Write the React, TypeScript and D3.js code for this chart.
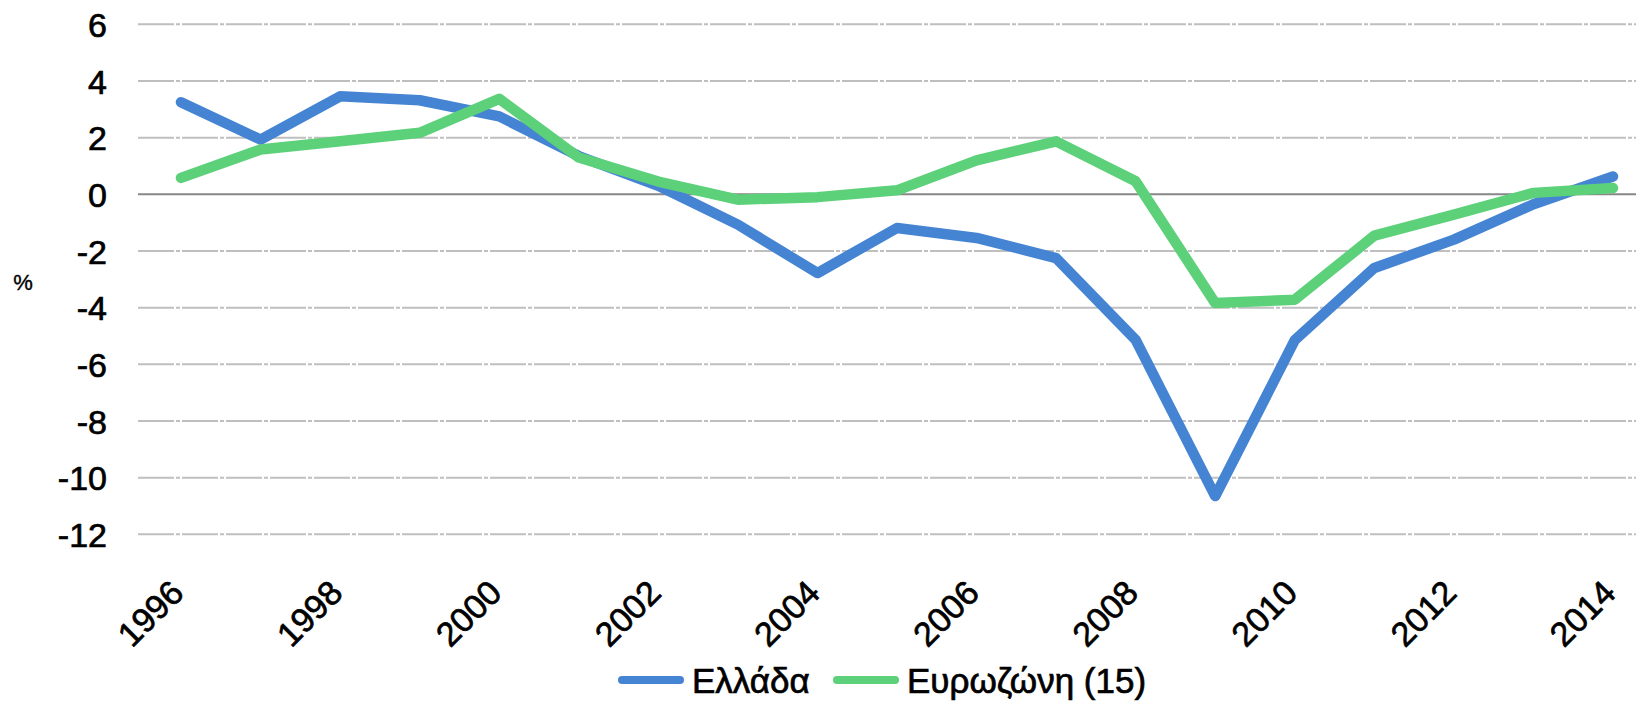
import React, { useRef, useEffect } from "react";
import * as d3 from "d3";

const years = [
  1996, 1997, 1998, 1999, 2000, 2001, 2002, 2003, 2004, 2005, 2006, 2007,
  2008, 2009, 2010, 2011, 2012, 2013, 2014,
];
const greece = [
  3.25, 1.93, 3.46, 3.32, 2.75, 1.35, 0.3, -1.07, -2.78, -1.19, -1.54, -2.25,
  -5.14, -10.65, -5.15, -2.6, -1.6, -0.35, 0.63,
];
const eurozone = [
  0.58, 1.58, 1.87, 2.17, 3.37, 1.3, 0.45, -0.19, -0.1, 0.14, 1.2, 1.87, 0.46,
  -3.84, -3.72, -1.46, -0.72, 0.05, 0.22,
];
const yTicks = [6, 4, 2, 0, -2, -4, -6, -8, -10, -12];
const xTicks = [1996, 1998, 2000, 2002, 2004, 2006, 2008, 2010, 2012, 2014];
const seriesNames = ["Ελλάδα", "Ευρωζώνη (15)"];
const seriesColors = ["#4584d3", "#5cd17a"];

const FONT = "'Liberation Sans', Arial, sans-serif";

const App = () => {
  const svgRef = useRef(null);

  useEffect(() => {
    const width = 1638;
    const height = 703;
    const svg = d3.select(svgRef.current);
    svg.selectAll("*").remove();
    svg.attr("width", width).attr("height", height);

    const x = d3.scalePoint().domain(years).range([181, 1613]);
    const y = d3.scaleLinear().domain([-12, 6]).range([534.3, 24.3]);

    // text looks a bit heavier than plain regular in the original
    const heavy = (sel) =>
      sel
        .attr("font-family", FONT)
        .attr("fill", "#000")
        .attr("stroke", "#000")
        .attr("stroke-width", 0.7);

    // gridlines
    svg
      .append("g")
      .selectAll("line")
      .data(yTicks.filter((t) => t !== 0))
      .enter()
      .append("line")
      .attr("x1", 138)
      .attr("x2", 1636)
      .attr("y1", (d) => y(d))
      .attr("y2", (d) => y(d))
      .attr("stroke", "#bfbfbf")
      .attr("stroke-width", 2)
      .attr("stroke-dasharray", "36 2 4 2");

    // y axis labels (plain hyphen, not unicode minus)
    const yAxis = d3
      .axisLeft(y)
      .tickValues(yTicks)
      .tickSize(0)
      .tickPadding(0)
      .tickFormat((d) => String(d));
    const yg = svg.append("g").attr("transform", "translate(107,0)").call(yAxis);
    yg.select(".domain").remove();
    yg.selectAll("text")
      .call(heavy)
      .attr("font-size", 34)
      .attr("dy", "0.36em");

    // % label
    svg
      .append("text")
      .attr("x", 23)
      .attr("y", 282)
      .attr("dy", "0.36em")
      .attr("text-anchor", "middle")
      .attr("font-size", 22)
      .call(heavy)
      .attr("stroke-width", 0.4)
      .text("%");

    // zero line
    svg
      .append("line")
      .attr("x1", 138)
      .attr("x2", 1636)
      .attr("y1", y(0))
      .attr("y2", y(0))
      .attr("stroke", "#878787")
      .attr("stroke-width", 2);

    // x axis labels
    const xAxis = d3
      .axisBottom(x)
      .tickValues(xTicks)
      .tickSize(0)
      .tickPadding(0)
      .tickFormat((d) => String(d));
    const xg = svg.append("g").attr("transform", "translate(0,595)").call(xAxis);
    xg.select(".domain").remove();
    xg.selectAll("text")
      .call(heavy)
      .attr("font-size", 34)
      .attr("text-anchor", "end")
      .attr("dy", 0)
      .attr("y", 0)
      .attr("transform", "translate(4,0) rotate(-45)");

    // lines
    const line = d3
      .line()
      .x((d, i) => x(years[i]))
      .y((d) => y(d));
    [greece, eurozone].forEach((s, i) => {
      svg
        .append("path")
        .datum(s)
        .attr("d", line)
        .attr("fill", "none")
        .attr("stroke", seriesColors[i])
        .attr("stroke-width", 10.5)
        .attr("stroke-linejoin", "round")
        .attr("stroke-linecap", "round");
    });

    // legend
    const legendX = [622, 837];
    const legend = svg.append("g");
    seriesNames.forEach((name, i) => {
      legend
        .append("line")
        .attr("x1", legendX[i])
        .attr("x2", legendX[i] + 58)
        .attr("y1", 680)
        .attr("y2", 680)
        .attr("stroke", seriesColors[i])
        .attr("stroke-width", 8)
        .attr("stroke-linecap", "round");
      legend
        .append("text")
        .attr("x", legendX[i] + 70)
        .attr("y", 680)
        .attr("dy", "0.36em")
        .attr("font-size", 35)
        .call(heavy)
        .text(name);
    });
  }, []);

  return (
    <svg
      ref={svgRef}
      style={{ position: "absolute", left: 0, top: 0, background: "#fff" }}
    ></svg>
  );
};

export default App;
